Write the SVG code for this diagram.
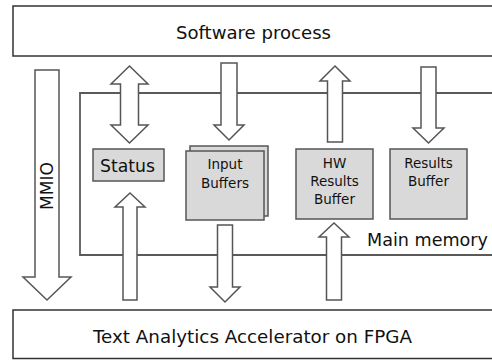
<svg xmlns="http://www.w3.org/2000/svg" width="492" height="360" viewBox="0 0 492 360">
  <style>
    .bar { fill: #ffffff; stroke: #333333; stroke-width: 1.5; }
    .mem { fill: none; stroke: #5a5a5a; stroke-width: 1.8; }
    .buf { fill: #d9d9d9; stroke: #555555; stroke-width: 1.5; }
    .arrow { fill: #ffffff; stroke: #555555; stroke-width: 1.5; stroke-linejoin: miter; }
    text { font-family: "DejaVu Sans", "Liberation Sans", sans-serif; fill: #111111; }
    .big { font-size: 18px; }
    .mid { font-size: 17px; }
    .small { font-size: 13.5px; text-anchor: middle; }
  </style>

  <rect width="492" height="360" fill="#ffffff"/>

  <!-- host side -->
  <g id="software-process">
    <rect class="bar" x="13" y="6" width="490" height="50"/>
    <text class="big" x="176" y="39" textLength="155" lengthAdjust="spacingAndGlyphs">Software process</text>
  </g>

  <!-- shared memory region, open on the right -->
  <g id="main-memory">
    <polyline class="mem" points="493,93 80,93 80,255 493,255"/>
    <text class="mid" x="367" y="246" textLength="121" lengthAdjust="spacingAndGlyphs">Main memory</text>
  </g>

  <g id="status">
    <rect class="buf" x="93" y="149" width="71" height="32"/>
    <text class="big" x="100" y="172" textLength="55" lengthAdjust="spacingAndGlyphs">Status</text>
  </g>

  <g id="input-buffers">
    <rect class="buf" x="190" y="146" width="78" height="70"/>
    <rect class="buf" x="186" y="151" width="78" height="69"/>
    <text class="small" x="225" y="169">Input</text>
    <text class="small" x="225" y="188">Buffers</text>
  </g>

  <g id="hw-results-buffer">
    <rect class="buf" x="296" y="149" width="77" height="70"/>
    <text class="small" x="334.5" y="168">HW</text>
    <text class="small" x="334.5" y="186">Results</text>
    <text class="small" x="334.5" y="204">Buffer</text>
  </g>

  <g id="results-buffer">
    <rect class="buf" x="390" y="149" width="77" height="70"/>
    <text class="small" x="428.5" y="168">Results</text>
    <text class="small" x="428.5" y="186">Buffer</text>
  </g>

  <!-- accelerator side -->
  <g id="accelerator">
    <rect class="bar" x="13" y="310" width="490" height="48.5"/>
    <text class="big" x="93" y="343" textLength="319" lengthAdjust="spacingAndGlyphs">Text Analytics Accelerator on FPGA</text>
  </g>

  <!-- block arrows -->
  <g id="connectors">
    <!-- MMIO: host to accelerator -->
    <polygon class="arrow" points="35,70 59,70 59,277 71,277 47,300 23,277 35,277"/>
    <text class="mid" transform="translate(53,186) rotate(-90)" text-anchor="middle" textLength="48" lengthAdjust="spacingAndGlyphs">MMIO</text>

    <!-- host <-> status -->
    <polygon class="arrow" points="129.5,66 148,84 138.5,84 138.5,125 148,125 129.5,143 111,125 120.5,125 120.5,84 111,84"/>
    <!-- accelerator -> status -->
    <polygon class="arrow" points="130,193 145,207 137,207 137,300 123,300 123,207 115,207"/>

    <!-- host -> input buffers -->
    <polygon class="arrow" points="221,63 237,63 237,125 244,125 229,140 214,125 221,125"/>
    <!-- input buffers -> accelerator -->
    <polygon class="arrow" points="217.5,225 232.5,225 232.5,287 240,287 225,302 210,287 217.5,287"/>

    <!-- hw results buffer -> host -->
    <polygon class="arrow" points="335,66 350,81 342.5,81 342.5,142 327.5,142 327.5,81 320,81"/>
    <!-- accelerator -> hw results buffer -->
    <polygon class="arrow" points="334,223 349,237 341.5,237 341.5,300 326.5,300 326.5,237 319,237"/>

    <!-- host -> results buffer -->
    <polygon class="arrow" points="421,67 436,67 436,128 444,128 428.5,143 413,128 421,128"/>
  </g>
</svg>
